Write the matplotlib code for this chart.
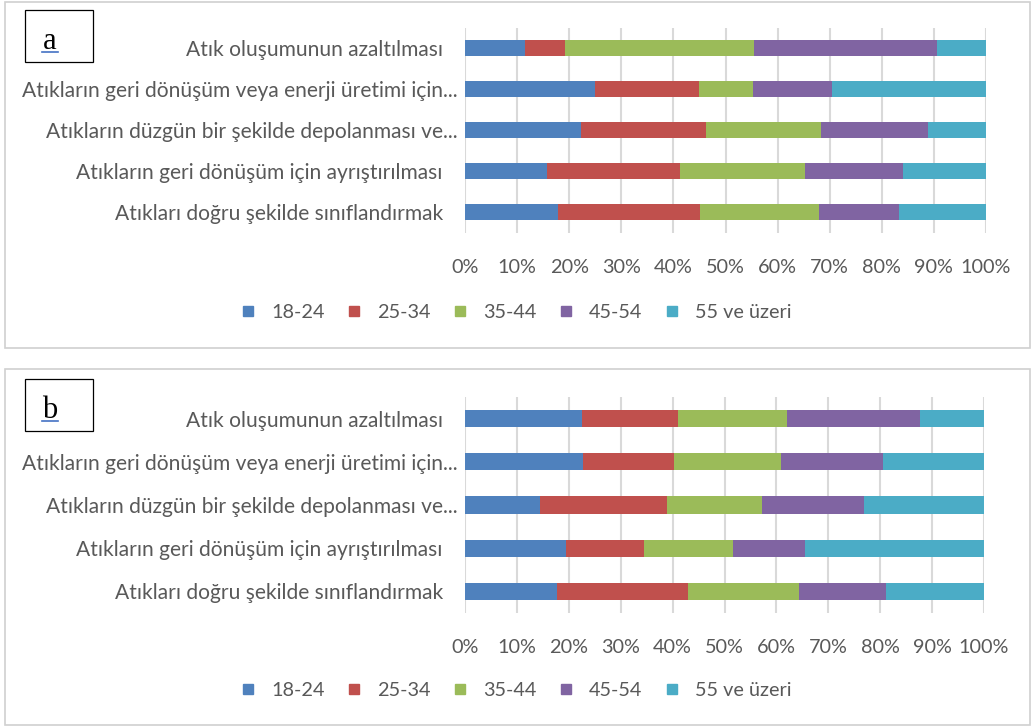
import matplotlib
matplotlib.use('Agg')
import matplotlib.pyplot as plt
from matplotlib.patches import Rectangle
from matplotlib.lines import Line2D
import numpy as np

plt.rcParams['font.family'] = ['Lato', 'DejaVu Sans']

# Category labels (top to bottom as shown)
categories = [
    'Atık oluşumunun azaltılması',
    'Atıkların geri dönüşüm veya enerji üretimi için...',
    'Atıkların düzgün bir şekilde depolanması ve...',
    'Atıkların geri dönüşüm için ayrıştırılması',
    'Atıkları doğru şekilde sınıflandırmak',
]
groups = ['18-24', '25-34', '35-44', '45-54', '55 ve üzeri']
colors = ['#4F81BD', '#C0504D', '#9BBB59', '#8064A2', '#4BACC6']

# Panel a: shares (%) per age group, rows in category order
a_1824 = [11.6, 24.9, 22.2, 15.8, 17.8]
a_2534 = [7.5, 20.1, 24.1, 25.4, 27.4]
a_3544 = [36.3, 10.3, 22.1, 24.0, 22.7]
a_4554 = [35.2, 15.2, 20.5, 18.9, 15.4]
a_55up = [9.4, 29.5, 11.1, 15.9, 16.7]

# Panel b
b_1824 = [22.5, 22.8, 14.5, 19.5, 17.7]
b_2534 = [18.6, 17.4, 24.5, 14.9, 25.3]
b_3544 = [20.9, 20.7, 18.3, 17.3, 21.4]
b_4554 = [25.6, 19.6, 19.5, 13.9, 16.8]
b_55up = [12.4, 19.5, 23.2, 34.4, 18.8]

ticks = np.arange(0, 101, 10)
tick_labels = [f'{t}%' for t in ticks]

W, H = 1033, 728
fig = plt.figure(figsize=(W / 100, H / 100), dpi=100)
text_col = '#595959'
fs = 14.3


def px(x0, y0, x1, y1):
    # pixel box -> figure fraction [left, bottom, width, height]
    return [x0 / W, 1 - y1 / H, (x1 - x0) / W, (y1 - y0) / H]


def draw_panel(box, axbox, legend_y, letter, letter_box, series):
    # outer frame
    fig.patches.append(Rectangle((box[0] / W, 1 - box[3] / H), (box[2] - box[0]) / W,
                                 (box[3] - box[1]) / H, transform=fig.transFigure,
                                 fill=False, edgecolor='#d0d0d0', lw=1.2))
    # letter box
    fig.patches.append(Rectangle((letter_box[0] / W, 1 - letter_box[3] / H),
                                 (letter_box[2] - letter_box[0]) / W,
                                 (letter_box[3] - letter_box[1]) / H,
                                 transform=fig.transFigure, fill=False,
                                 edgecolor='black', lw=0.9))
    lx = (letter_box[0] + 25) / W
    ly = 1 - (letter_box[1] + 39) / H
    fig.text(lx, ly, letter, fontsize=22, family='Liberation Serif', color='black',
             ha='center', va='baseline')
    fig.lines.append(Line2D([lx - 8 / W, lx + 8 / W], [ly - 3 / H, ly - 3 / H],
                            transform=fig.transFigure, color='#4472C4', lw=1.2))

    ax = fig.add_axes(px(*axbox))
    y = np.arange(len(categories))
    left = np.zeros(len(categories))
    for vals, c, g in zip(series, colors, groups):
        ax.barh(y, vals, left=left, height=0.4, color=c, label=g, zorder=3)
        left += np.array(vals)
    ax.set_xlim(0, 100)
    ax.set_ylim(len(categories) - 0.5, -0.5)
    ax.set_xticks(ticks)
    ax.set_xticklabels(tick_labels)
    ax.set_yticks(y)
    ax.set_yticklabels(categories)
    ax.grid(axis='x', color='#d9d9d9', lw=1.5, zorder=0)
    for s in ax.spines.values():
        s.set_visible(False)
    ax.tick_params(axis='x', length=0, pad=19, labelsize=fs, labelcolor=text_col)
    ax.tick_params(axis='y', length=0, pad=16, labelsize=15.1, labelcolor=text_col)
    for t, lab in zip(ax.yaxis.get_major_ticks(), categories):
        if lab.endswith('...'):
            t.set_pad(5)

    handles = [Line2D([], [], marker='s', linestyle='none', markersize=7.5,
                      markerfacecolor=c, markeredgecolor=c) for c in colors]
    fig.legend(handles, groups, loc='center', ncol=5, frameon=False,
               bbox_to_anchor=(515 / W, 1 - legend_y / H), fontsize=fs,
               labelcolor=text_col, handletextpad=0.65, columnspacing=1.0,
               handlelength=1.0)


draw_panel((5, 2, 1030, 348), (465, 27.5, 986, 232.5), 312, 'a', (25, 10, 93, 62),
           [a_1824, a_2534, a_3544, a_4554, a_55up])
draw_panel((5, 369, 1030, 725), (465, 397, 984, 613), 690, 'b', (25, 379, 93, 431),
           [b_1824, b_2534, b_3544, b_4554, b_55up])

fig.savefig('out.png', dpi=100)
